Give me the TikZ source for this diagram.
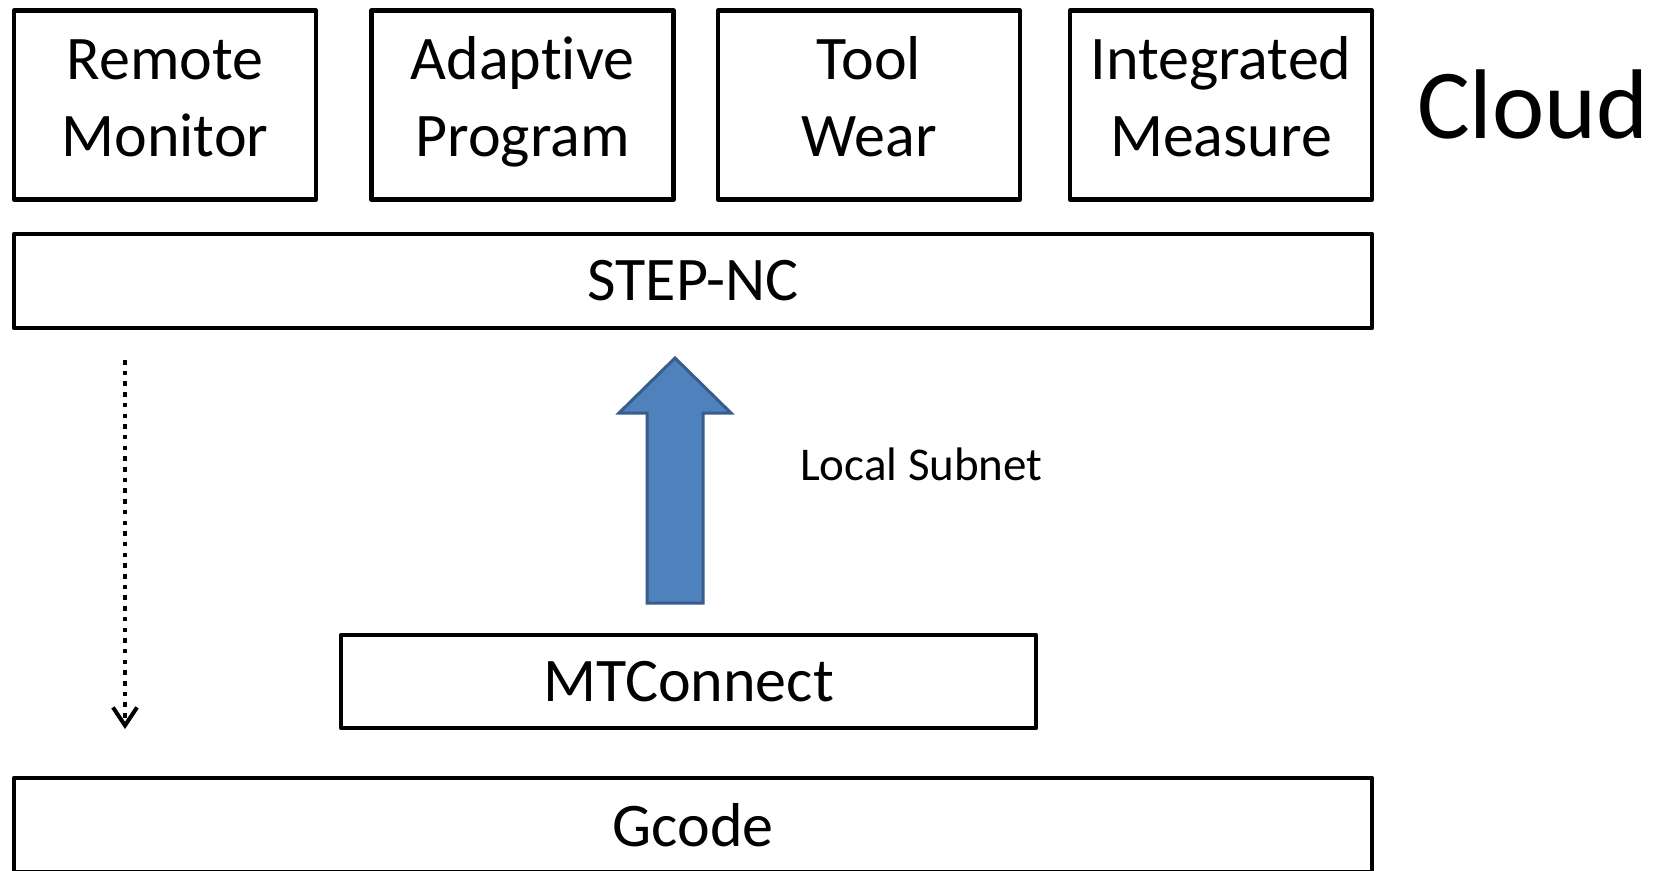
\documentclass[tikz,border=0pt]{standalone}
\usepackage{fontspec}
\setmainfont{Carlito}[Ligatures=NoCommon]
\usepackage{tikz}
\usepackage{xcolor}
\usetikzlibrary{arrows.meta,positioning}
\definecolor{arrowfill}{HTML}{4F81BD}
\definecolor{arrowline}{HTML}{385D8A}

\begin{document}
\begin{tikzpicture}[x=1pt,y=-1pt,
  blk/.style={rectangle,draw=black,line width=4.5pt,line join=round,inner sep=0pt,
    font=\fontsize{62}{77}\selectfont,align=center},
  topblk/.style={blk,minimum width=302pt,minimum height=189pt,text height=122pt,text depth=19pt},
  wideblk/.style={blk,minimum width=1358pt,minimum height=94pt},
  dotline/.style={line width=4.5pt,dash pattern=on 4.5pt off 6.2pt,
    -{Straight Barb[length=18pt,width=24pt,line width=4pt]}}]
\useasboundingbox (0,0) rectangle (1662,870);
\node[topblk] (rm) at (165,105){Remote\\Monitor};
\node[topblk] (ap) at (522.5,105){Adaptive\\Program};
\node[topblk] (tw) at (869,105){Tool\\Wear};
\node[topblk] (im) at (1221,105){Integrated\\Measure};
\node[font=\fontsize{99}{110}\selectfont,inner sep=0pt] (cl) at (1533,104){Cloud};

\node[wideblk] (sn) at (693,281){STEP-NC};
\node[blk,minimum width=695pt,minimum height=93pt] (mt) at (688.5,681.5){MTConnect};
\node[wideblk] (gc) at (693,825){Gcode};

% block arrow, MTConnect up to STEP-NC
\draw[fill=arrowfill,draw=arrowline,line width=3pt,line join=miter]
  (647,603) -- (647,413) -- (619,413) -- (675,358) -- (731,413) -- (703,413) -- (703,603) -- cycle;
\node[anchor=west,inner sep=0pt,font=\fontsize{47}{56}\selectfont] (ls) at (800,464){Local Subnet};

% dotted line down to Gcode
\coordinate (dtop) at (125,360);
\coordinate (dbot) at (125,729);
\draw[dotline] (dtop) -- (dbot);
\end{tikzpicture}
\end{document}
